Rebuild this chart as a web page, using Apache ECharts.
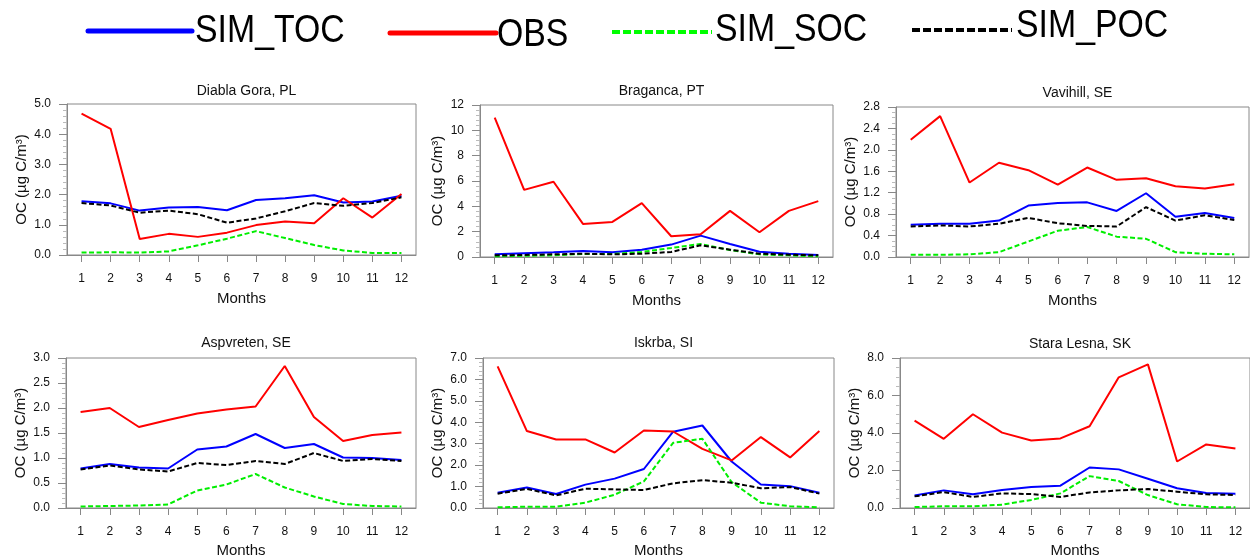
<!DOCTYPE html>
<html>
<head>
<meta charset="utf-8">
<script src="https://cdn.jsdelivr.net/npm/echarts@6/dist/echarts.min.js"></script>
<style>
html,body{margin:0;padding:0;background:#fff;}
#chart{width:1250px;height:559px;}
</style>
</head>
<body>
<div id="chart"></div>
<script>
const months = ['1','2','3','4','5','6','7','8','9','10','11','12'];
const seriesNames = ['SIM_TOC','OBS','SIM_SOC','SIM_POC'];
const stationNames = ['Diabla Gora, PL','Braganca, PT','Vavihill, SE','Aspvreten, SE','Iskrba, SI','Stara Lesna, SK'];

// Diabla Gora, PL
const diablaTOC = [1.78,1.71,1.47,1.57,1.59,1.48,1.82,1.88,1.98,1.74,1.77,1.96];
const diablaOBS = [4.68,4.18,0.53,0.70,0.60,0.74,0.99,1.11,1.05,1.88,1.24,2.02];
const diablaSOC = [0.08,0.09,0.08,0.12,0.32,0.54,0.79,0.56,0.33,0.15,0.07,0.07];
const diablaPOC = [1.72,1.64,1.40,1.47,1.35,1.07,1.21,1.45,1.72,1.63,1.72,1.91];
// Braganca, PT
const bragancaTOC = [0.21,0.29,0.37,0.47,0.37,0.58,0.98,1.69,1.03,0.42,0.26,0.16];
const bragancaOBS = [11.0,5.30,5.94,2.61,2.77,4.25,1.64,1.79,3.64,1.95,3.64,4.41];
const bragancaSOC = [0.05,0.10,0.13,0.24,0.24,0.40,0.71,1.03,0.55,0.21,0.13,0.05];
const bragancaPOC = [0.13,0.16,0.21,0.26,0.21,0.26,0.40,0.92,0.58,0.26,0.18,0.13];
// Vavihill, SE
const vavihillTOC = [0.60,0.62,0.62,0.68,0.96,1.01,1.02,0.86,1.19,0.75,0.82,0.73];
const vavihillOBS = [2.19,2.63,1.39,1.76,1.62,1.35,1.67,1.44,1.47,1.32,1.28,1.36];
const vavihillSOC = [0.04,0.04,0.05,0.09,0.29,0.49,0.56,0.38,0.34,0.09,0.06,0.05];
const vavihillPOC = [0.57,0.59,0.57,0.62,0.73,0.63,0.58,0.57,0.93,0.68,0.78,0.69];
// Aspvreten, SE
const aspvretenTOC = [0.79,0.88,0.81,0.79,1.17,1.23,1.48,1.20,1.28,1.01,1.00,0.96];
const aspvretenOBS = [1.92,2.00,1.62,1.76,1.89,1.97,2.03,2.84,1.82,1.34,1.46,1.51];
const aspvretenSOC = [0.03,0.04,0.05,0.07,0.35,0.47,0.68,0.41,0.23,0.08,0.04,0.03];
const aspvretenPOC = [0.77,0.85,0.77,0.73,0.90,0.86,0.94,0.88,1.10,0.94,0.98,0.94];
// Iskrba, SI
const iskrbaTOC = [0.71,0.96,0.65,1.09,1.37,1.82,3.56,3.85,2.17,1.10,1.02,0.71];
const iskrbaOBS = [6.61,3.59,3.20,3.20,2.59,3.62,3.57,2.76,2.22,3.31,2.36,3.59];
const iskrbaSOC = [0.03,0.06,0.06,0.25,0.62,1.24,3.04,3.23,1.21,0.25,0.08,0.03];
const iskrbaPOC = [0.67,0.89,0.59,0.90,0.87,0.84,1.15,1.30,1.18,0.92,0.98,0.67];
// Stara Lesna, SK
const staraTOC = [0.67,0.94,0.73,0.96,1.12,1.19,2.16,2.06,1.56,1.05,0.80,0.76];
const staraOBS = [4.66,3.69,5.00,4.02,3.60,3.71,4.36,6.97,7.66,2.48,3.39,3.17];
const staraSOC = [0.05,0.09,0.09,0.18,0.43,0.78,1.70,1.44,0.69,0.20,0.05,0.04];
const staraPOC = [0.62,0.85,0.59,0.78,0.74,0.59,0.83,0.94,1.01,0.87,0.73,0.69];

// y-axis tick settings per panel
const yMax = [5, 12, 2.8, 3, 7, 8];
const yInterval = [1, 2, 0.4, 0.5, 1, 2];
const yDecimals = [1, 0, 1, 1, 1, 1];
const yMinorSplit = [5, 5, 4, 5, 5, 4];

const panelData = [
  [diablaTOC, diablaOBS, diablaSOC, diablaPOC],
  [bragancaTOC, bragancaOBS, bragancaSOC, bragancaPOC],
  [vavihillTOC, vavihillOBS, vavihillSOC, vavihillPOC],
  [aspvretenTOC, aspvretenOBS, aspvretenSOC, aspvretenPOC],
  [iskrbaTOC, iskrbaOBS, iskrbaSOC, iskrbaPOC],
  [staraTOC, staraOBS, staraSOC, staraPOC]
];

// layout
const gridBoxes = [
  {left: 67, top: 104, width: 349, height: 151},
  {left: 480, top: 105, width: 353, height: 152},
  {left: 896, top: 107, width: 353, height: 150},
  {left: 66, top: 358, width: 350, height: 150},
  {left: 483, top: 358, width: 351, height: 150},
  {left: 900, top: 358, width: 350, height: 150}
];
const titleY = [79, 79, 81, 331, 331, 332];
const yNameGap = [38, 35, 38, 38, 38, 38];

const lineColors = ['#0000ff', '#ff0000', '#00ee00', '#000000'];
const lineTypes = ['solid', 'solid', [5, 2.5], [5, 2.5]];
const FONT = 'Liberation Sans, Arial, Helvetica, sans-serif';
const axisGray = '#888888';

const chart = echarts.init(document.getElementById('chart'), null, {renderer: 'canvas'});

const grids = [], xAxes = [], yAxes = [], series = [], titles = [];
gridBoxes.forEach((g, i) => {
  grids.push(Object.assign({show: true, borderColor: axisGray, borderWidth: 1, backgroundColor: 'transparent', containLabel: false}, g));
  titles.push({
    text: stationNames[i],
    left: g.left + g.width / 2,
    top: titleY[i],
    textAlign: 'center',
    textStyle: {fontFamily: FONT, fontSize: 14, fontWeight: 'normal', color: '#111'}
  });
  xAxes.push({
    gridIndex: i, type: 'category', data: months, boundaryGap: true,
    name: 'Months', nameLocation: 'middle', nameGap: i < 3 ? 36 : 35,
    nameTextStyle: {fontFamily: FONT, fontSize: 15, color: '#111'},
    axisLine: {show: true, lineStyle: {color: axisGray, width: 1}},
    axisTick: {show: true, alignWithLabel: true, length: 7, lineStyle: {color: axisGray}},
    axisLabel: {show: true, interval: 0, margin: 18, fontFamily: FONT, fontSize: 12, color: '#111'},
    splitLine: {show: false}
  });
  const dec = yDecimals[i];
  yAxes.push({
    gridIndex: i, type: 'value', min: 0, max: yMax[i], interval: yInterval[i],
    name: 'OC (µg C/m³)', nameLocation: 'middle', nameGap: yNameGap[i],
    nameTextStyle: {fontFamily: FONT, fontSize: 15, color: '#111'},
    axisLine: {show: true, lineStyle: {color: axisGray, width: 1}},
    axisTick: {show: true, length: 8, lineStyle: {color: axisGray}},
    minorTick: {show: true, splitNumber: yMinorSplit[i], length: 4, lineStyle: {color: '#bbbbbb'}},
    axisLabel: {margin: 16, fontFamily: FONT, fontSize: 12, color: '#111',
      formatter: v => Number(v).toFixed(dec)},
    splitLine: {show: false}
  });
  panelData[i].forEach((arr, k) => {
    series.push({
      name: seriesNames[k], type: 'line', xAxisIndex: i, yAxisIndex: i,
      data: arr, symbol: 'none', smooth: false, silent: true, animation: false,
      lineStyle: {color: lineColors[k], width: 2, type: lineTypes[k]},
      z: 2 + k
    });
  });
});

// legend (key) drawn at the top
const legendItems = [
  {x1: 88, x2: 192, ly: 31, tx: 195, ty: 32, dash: null},
  {x1: 390, x2: 496, ly: 33, tx: 497, ty: 36, dash: null},
  {x1: 612, x2: 712, ly: 32, tx: 715, ty: 31, dash: [8, 3]},
  {x1: 912, x2: 1012, ly: 30, tx: 1016, ty: 27, dash: [8, 3]}
];
const legendStroke = ['#0000ff', '#ff0000', '#00ff00', '#000000'];
const graphics = [];
legendItems.forEach((it, k) => {
  graphics.push({
    type: 'line', silent: true,
    shape: {x1: it.x1, y1: it.ly, x2: it.x2, y2: it.ly},
    style: {stroke: legendStroke[k], lineWidth: k < 2 ? 5 : 4, lineDash: it.dash, lineCap: k < 2 ? 'round' : 'butt'}
  });
  graphics.push({
    type: 'text', silent: true, x: it.tx, y: it.ty, scaleX: 0.89,
    style: {text: seriesNames[k], x: 0, y: 0, fill: '#000', fontFamily: FONT, fontSize: 38,
      textAlign: 'left', textVerticalAlign: 'middle'}
  });
});

chart.setOption({
  animation: false,
  backgroundColor: '#ffffff',
  title: titles,
  grid: grids,
  xAxis: xAxes,
  yAxis: yAxes,
  series: series,
  graphic: graphics
});
</script>
</body>
</html>
